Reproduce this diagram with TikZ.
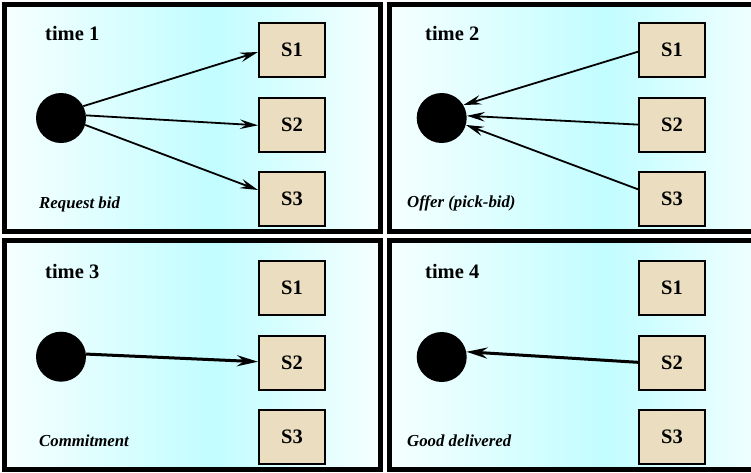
\documentclass[tikz,border=0pt]{standalone}
\usepackage{fontspec}
\setmainfont{Liberation Serif}
\usetikzlibrary{arrows.meta}

\definecolor{panelcyan}{RGB}{194,253,255}
\definecolor{panelpale}{RGB}{246,255,255}
\definecolor{sandbox}{RGB}{235,222,192}

% white -> cyan -> white across each panel (the path maps onto 25bp..75bp)
\pgfdeclarehorizontalshading{panelglow}{100bp}{%
  color(0bp)=(panelpale); color(25bp)=(panelpale);
  color(53bp)=(panelcyan);
  color(75bp)=(panelpale); color(100bp)=(panelpale)}

\tikzset{
  panel/.style={draw=black, line width=4.6pt, shading=panelglow},
  supplier/.style={draw=black, line width=2pt, fill=sandbox,
    minimum width=66pt, minimum height=54pt, inner sep=0pt,
    font=\fontsize{20.5}{24}\selectfont\bfseries},
  buyer/.style={circle, fill=black, minimum size=50pt, inner sep=0pt},
  steplabel/.style={anchor=base west, inner sep=0pt,
    font=\fontsize{20.5}{24}\selectfont\bfseries},
  phaselabel/.style={anchor=base west, inner sep=0pt,
    font=\fontsize{16.8}{20}\selectfont\bfseries\itshape},
  msg/.style={line width=1.8pt,
    -{Stealth[length=18pt, width=9.5pt, inset=6.5pt]}},
  bigmsg/.style={line width=3pt,
    -{Stealth[length=21pt, width=11pt, inset=7pt]}}
}

\begin{document}
\begin{tikzpicture}[x=1pt, y=-1pt]
\useasboundingbox (0,0) rectangle (751,472);
\fill[white] (0,0) rectangle (751,472);
\clip (0,0) rectangle (751,472);

% ---- panels ----
\shade[panel] (4.5,4.5) rectangle (380.5,231.5);
\shade[panel] (389.5,4.5) rectangle (775,231.5);
\shade[panel] (4.5,240.5) rectangle (380.5,469.5);
\shade[panel] (389.5,240.5) rectangle (775,469.5);

% ---- time 1: request bid ----
\node[steplabel] (t1) at (45,40.7) {time 1};
\node[phaselabel] (p1) at (39,208) {Request bid};
\node[buyer] (c1) at (61,118) {};
\node[supplier] (a1) at (292,50) {S1};
\node[supplier] (a2) at (292,125.3) {S2};
\node[supplier] (a3) at (292,199) {S3};
\draw[msg] (c1.28) -- ([yshift=-2pt]a1.west);
\draw[msg] (c1.6) -- (a2.west);
\draw[msg] (c1.-16) -- ([yshift=9pt]a3.west);

% ---- time 2: offers ----
\node[steplabel] (t2) at (425,40.7) {time 2};
\node[phaselabel] (p2) at (407,207.5) {Offer (pick-bid)};
\node[buyer] (c2) at (441.7,118) {};
\node[supplier] (b1) at (672,50) {S1};
\node[supplier] (b2) at (672,125.3) {S2};
\node[supplier] (b3) at (672,199) {S3};
\draw[msg] ([yshift=-1.7pt]b1.west) -- (c2.31);
\draw[msg] ([yshift=0.7pt]b2.west) -- (c2.5);
\draw[msg] ([yshift=9.7pt]b3.west) -- (c2.-16);

% ---- time 3: commitment ----
\node[steplabel] (t3) at (45,278.5) {time 3};
\node[phaselabel] (p3) at (39,446.5) {Commitment};
\node[buyer] (c3) at (61,356.7) {};
\node[supplier] (d1) at (292,288.2) {S1};
\node[supplier] (d2) at (292,363.3) {S2};
\node[supplier] (d3) at (292,437.2) {S3};
\draw[bigmsg] (c3.6) -- ([yshift=1.6pt]d2.west);

% ---- time 4: goods delivered ----
\node[steplabel] (t4) at (425,278.5) {time 4};
\node[phaselabel] (p4) at (407,446.5) {Good delivered};
\node[buyer] (c4) at (441.7,357) {};
\node[supplier] (e1) at (672,288.2) {S1};
\node[supplier] (e2) at (672,363.3) {S2};
\node[supplier] (e3) at (672,437.2) {S3};
\draw[bigmsg] ([yshift=1pt]e2.west) -- (c4.12);
\end{tikzpicture}
\end{document}
